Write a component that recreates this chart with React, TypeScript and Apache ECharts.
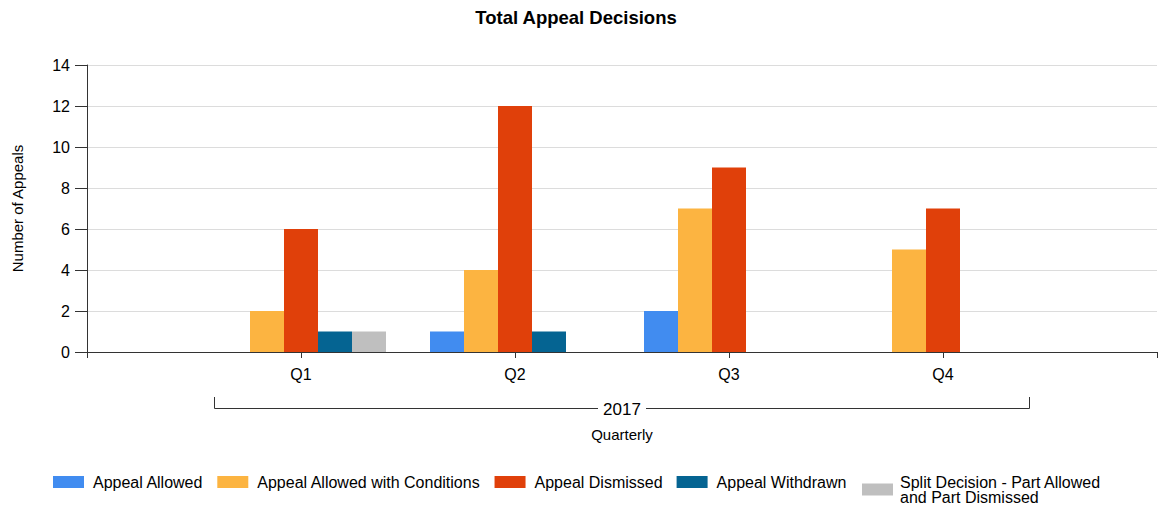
import React, { useEffect, useRef } from "react";
import * as echarts from "echarts";

const quarters = ["Q1", "Q2", "Q3", "Q4"];
const seriesNames = [
  "Appeal Allowed",
  "Appeal Allowed with Conditions",
  "Appeal Dismissed",
  "Appeal Withdrawn",
  "Split Decision - Part Allowed\nand Part Dismissed",
];
const appealAllowed = [0, 1, 2, 0];
const allowedWithConditions = [2, 4, 7, 5];
const appealDismissed = [6, 12, 9, 7];
const appealWithdrawn = [1, 1, 0, 0];
const splitDecision = [1, 0, 0, 0];
const seriesColors = ["#418CF0", "#FCB441", "#E0400A", "#056492", "#BFBFBF"];
const yearLabel = "2017";
const yTicks = [0, 2, 4, 6, 8, 10, 12, 14];

const FONT = "Liberation Sans, Arial, sans-serif";

export default function App() {
  const ref = useRef<HTMLDivElement>(null);

  useEffect(() => {
    document.body.style.margin = "0";
    if (!ref.current) return;
    const chart = echarts.init(ref.current, undefined, { renderer: "svg" });
    const categories = ["", ...quarters, ""];
    const allSeries = [
      appealAllowed,
      allowedWithConditions,
      appealDismissed,
      appealWithdrawn,
      splitDecision,
    ];
    const legendCommon = {
      itemWidth: 31,
      itemHeight: 12,
      itemGap: 14,
      icon: "rect",
      orient: "horizontal",
      padding: 0,
    };
    const option: any = {
      animation: false,
      title: {
        text: "Total Appeal Decisions",
        left: 576,
        top: 8,
        padding: 0,
        textAlign: "center",
        textStyle: { fontFamily: FONT, fontSize: 18.5, fontWeight: "bold", color: "#000" },
      },
      grid: { left: 87, right: 8, top: 65, bottom: 154 },
      legend: [
        {
          ...legendCommon,
          left: 53,
          top: 474,
          textStyle: { fontFamily: FONT, fontSize: 16, color: "#000", padding: [0, 0, 0, 4] },
          data: seriesNames.slice(0, 4),
        },
        {
          ...legendCommon,
          left: 862,
          top: 474,
          textStyle: {
            fontFamily: FONT,
            fontSize: 16,
            color: "#000",
            lineHeight: 15,
            padding: [0, 0, 0, 2],
          },
          data: seriesNames.slice(4),
        },
      ],
      xAxis: {
        type: "category",
        data: categories,
        boundaryGap: false,
        axisLine: { lineStyle: { color: "#333", width: 1 } },
        axisTick: { show: true, length: 6, lineStyle: { color: "#333" } },
        axisLabel: {
          fontFamily: FONT,
          fontSize: 16,
          color: "#000",
          margin: 14,
          interval: 0,
        },
        splitLine: { show: false },
      },
      yAxis: {
        type: "value",
        min: 0,
        max: yTicks[yTicks.length - 1],
        interval: 2,
        name: "Number of Appeals",
        nameLocation: "middle",
        nameGap: 62,
        nameTextStyle: { fontFamily: FONT, fontSize: 15, color: "#000" },
        axisLine: { show: true, lineStyle: { color: "#333", width: 1 } },
        axisTick: { show: true, length: 12, lineStyle: { color: "#333" } },
        axisLabel: { fontFamily: FONT, fontSize: 16, color: "#000", margin: 17 },
        splitLine: { show: true, lineStyle: { color: "#DCDCDC" } },
      },
      series: allSeries.map((vals, i) => ({
        type: "bar",
        name: seriesNames[i],
        data: [null, ...vals, null],
        barWidth: 34,
        barGap: "0%",
        itemStyle: { color: seriesColors[i] },
      })),
    };
    chart.setOption(option);

    const x1 = chart.convertToPixel({ xAxisIndex: 0 }, quarters[0]) as number;
    const x4 = chart.convertToPixel({ xAxisIndex: 0 }, quarters[quarters.length - 1]) as number;
    const left = Math.round(x1 - 87) + 0.5;
    const right = Math.round(x4 + 86) + 0.5;
    const mid = (left + right) / 2;
    chart.setOption({
      graphic: [
        {
          type: "polyline",
          shape: { points: [[left, 397], [left, 408.5], [right, 408.5], [right, 397]] },
          style: { stroke: "#333", lineWidth: 1, fill: "none" },
          silent: true,
        },
        {
          type: "rect",
          shape: { x: mid - 24, y: 400, width: 48, height: 16 },
          style: { fill: "#fff" },
          silent: true,
        },
        {
          type: "text",
          x: mid,
          y: 409,
          style: {
            text: yearLabel,
            fontFamily: FONT,
            fontSize: 17,
            fill: "#000",
            align: "center",
            verticalAlign: "middle",
          },
          silent: true,
        },
        {
          type: "text",
          x: mid,
          y: 434,
          style: {
            text: "Quarterly",
            fontFamily: FONT,
            fontSize: 15,
            fill: "#000",
            align: "center",
            verticalAlign: "middle",
          },
          silent: true,
        },
      ],
    });

    return () => chart.dispose();
  }, []);

  return <div ref={ref} style={{ width: 1165, height: 506 }} />;
}
